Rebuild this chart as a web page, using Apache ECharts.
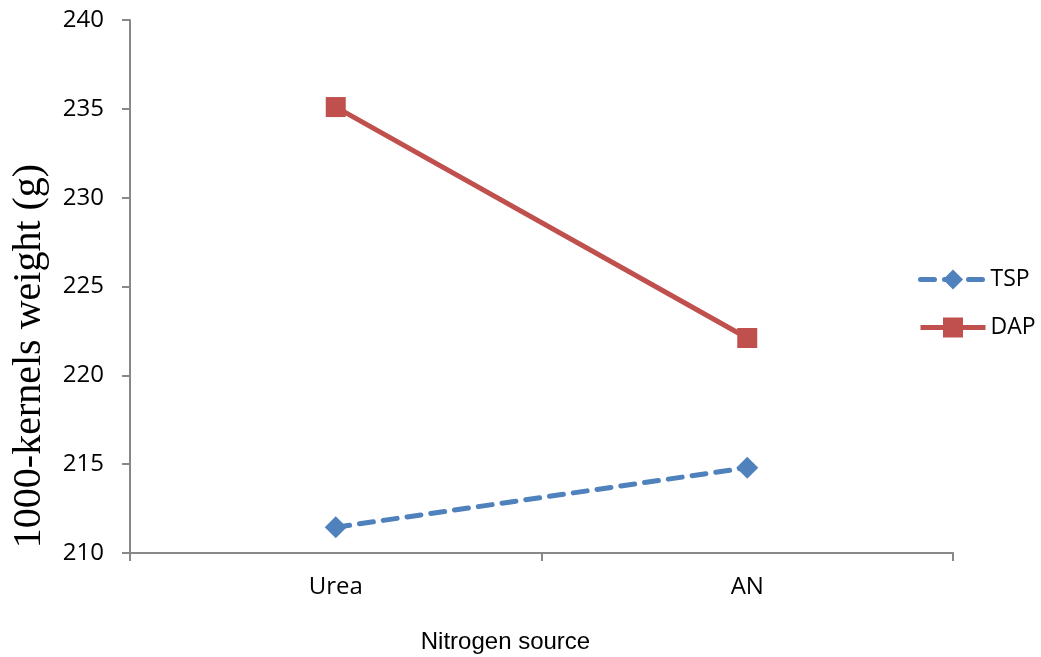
<!DOCTYPE html>
<html>
<head>
<meta charset="utf-8">
<title>1000-kernels weight by nitrogen source</title>
<script src="https://cdn.jsdelivr.net/npm/echarts@6/dist/echarts.min.js"></script>
<style>
  html, body { margin: 0; padding: 0; background: #ffffff; overflow: hidden; }
  #chart { width: 1041px; height: 657px; }
</style>
</head>
<body>
<div id="chart"></div>
<script>
// Nitrogen sources on the x axis
const categories = ['Urea', 'AN'];
// 1000-kernels weight (g) for each phosphorus source
const tspValues = [211.45, 214.8];
const dapValues = [235.1, 222.1];
// Value axis range
const yMin = 210;
const yMax = 240;
const yStep = 5;

const axisGray = '#888888';
const labelFont = '"Open Sans", "Liberation Sans", sans-serif';

const chart = echarts.init(document.getElementById('chart'), null, { renderer: 'canvas' });

chart.setOption({
  backgroundColor: '#ffffff',
  animation: false,
  grid: { left: 130, right: 88, top: 20, bottom: 104, containLabel: false, outerBoundsMode: 'none' },
  legend: {
    orient: 'vertical',
    left: 913,
    top: 263,
    itemWidth: 65,
    itemHeight: 25,
    itemGap: 25,
    lineStyle: { width: 5 },
    textStyle: { fontFamily: labelFont, fontSize: 23, color: '#000000', padding: [0, 0, 0, 0] },
    data: ['TSP', 'DAP']
  },
  // Vertical value-axis title, sitting a little below the plot's middle
  graphic: [
    {
      type: 'text',
      x: 29,
      y: 356,
      rotation: Math.PI / 2,
      style: {
        text: '1000-kernels weight (g)',
        fontFamily: '"Liberation Serif", "Times New Roman", serif',
        fontSize: 40,
        fill: '#000000',
        align: 'center',
        verticalAlign: 'middle'
      }
    }
  ],
  xAxis: {
    type: 'category',
    data: categories,
    boundaryGap: true,
    name: 'Nitrogen source',
    nameLocation: 'middle',
    nameGap: 77,
    nameTextStyle: {
      fontFamily: '"Liberation Sans", Arial, sans-serif',
      fontSize: 24,
      color: '#000000',
      padding: [0, 72, 0, 0]
    },
    axisLine: { lineStyle: { color: axisGray, width: 2 } },
    axisTick: { show: true, length: 8, lineStyle: { color: axisGray, width: 2 } },
    axisLabel: { fontFamily: labelFont, fontSize: 24, color: '#000000', margin: 22 },
    splitLine: { show: false }
  },
  yAxis: {
    type: 'value',
    min: yMin,
    max: yMax,
    interval: yStep,
    axisLine: { show: true, lineStyle: { color: axisGray, width: 2 } },
    axisTick: { show: true, length: 8, lineStyle: { color: axisGray, width: 2 } },
    axisLabel: { fontFamily: labelFont, fontSize: 24, color: '#000000', margin: 26 },
    splitLine: { show: false }
  },
  series: [
    {
      name: 'TSP',
      type: 'line',
      data: tspValues,
      symbol: 'diamond',
      symbolSize: 22,
      itemStyle: { color: '#4F81BD' },
      lineStyle: { color: '#4F81BD', width: 5, type: [14, 10], cap: 'round' }
    },
    {
      name: 'DAP',
      type: 'line',
      data: dapValues,
      symbol: 'rect',
      symbolSize: 20,
      itemStyle: { color: '#C0504D' },
      lineStyle: { color: '#C0504D', width: 5, type: 'solid' }
    }
  ]
});
</script>
</body>
</html>
